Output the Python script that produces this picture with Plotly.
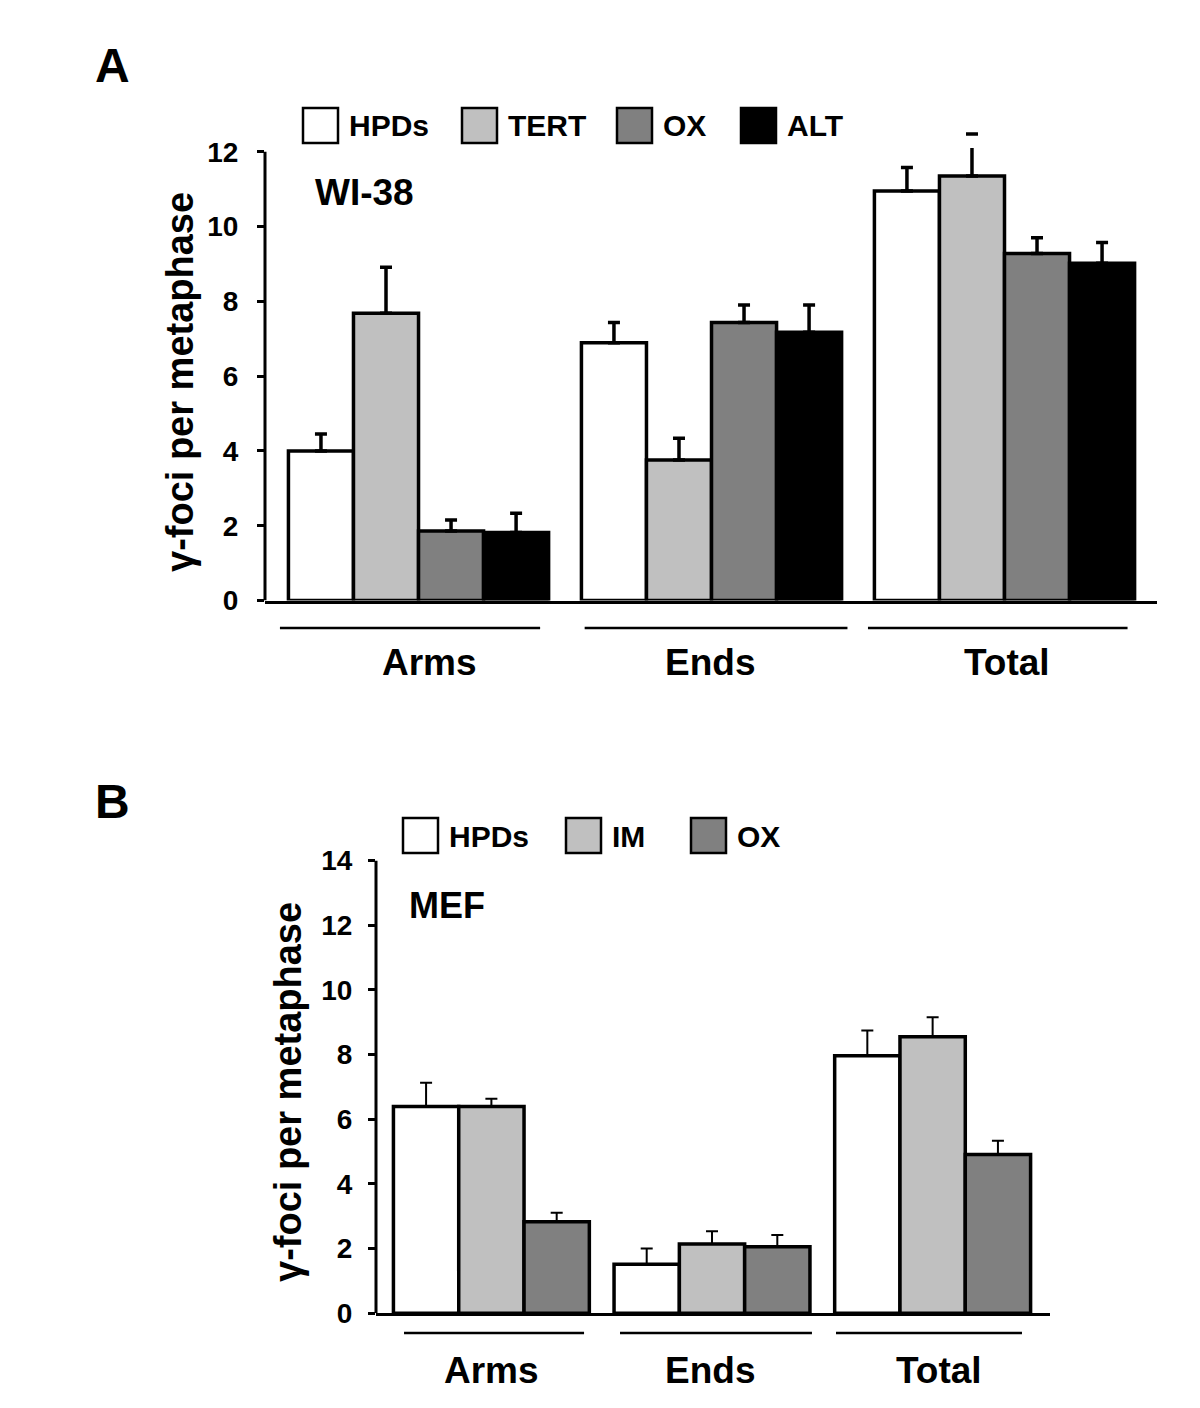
import plotly.graph_objects as go

# ---------------- data ----------------
categories = ["Arms", "Ends", "Total"]

# Panel A : WI-38
series_a = ["HPDs", "TERT", "OX", "ALT"]
hpds_a = [4.00, 6.89, 10.95]
tert_a = [7.68, 3.76, 11.35]
ox_a = [1.86, 7.43, 9.28]
alt_a = [1.82, 7.17, 9.02]
hpds_a_err = [0.45, 0.54, 0.63]
tert_a_err = [1.23, 0.58, 0.0]
ox_a_err = [0.29, 0.47, 0.42]
alt_a_err = [0.51, 0.73, 0.55]
tert_a_total_stem = 0.75     # TERT / Total error stem (cap detached)
tert_a_total_cap = 12.47     # detached cap level for TERT / Total

# Panel B : MEF
series_b = ["HPDs", "IM", "OX"]
hpds_b = [6.39, 1.52, 7.96]
im_b = [6.39, 2.14, 8.55]
ox_b = [2.83, 2.06, 4.91]
hpds_b_err = [0.74, 0.48, 0.78]
im_b_err = [0.24, 0.40, 0.60]
ox_b_err = [0.28, 0.36, 0.42]

ticks_a = [0, 2, 4, 6, 8, 10, 12]
ticks_b = [0, 2, 4, 6, 8, 10, 12, 14]

# ---------------- styling ----------------
PAGE_W, PAGE_H, BODY = 1200, 1408, 8
W, H = PAGE_W - 2 * BODY, PAGE_H - 2 * BODY
FONT = "Liberation Sans, Arial, Helvetica, sans-serif"
fills_a = ["#ffffff", "#c0c0c0", "#808080", "#000000"]
fills_b = ["#ffffff", "#c0c0c0", "#808080"]

# decoration: group underline spans (in category units) and label nudges (px)
underline_a = [(-0.473, 0.415), (-0.433, 0.464), (-0.466, 0.42)]
underline_b = [(-0.396, 0.42), (-0.417, 0.453), (-0.438, 0.405)]
label_shift_a = [11, -2, 2]
label_shift_b = [0, -2, 6]


def px(x):
    return (x - BODY) / W


def py(y):
    return 1 - (y - BODY) / H


fig = go.Figure()

vals_a = [hpds_a, tert_a, ox_a, alt_a]
errs_a = [hpds_a_err, tert_a_err, ox_a_err, alt_a_err]
for i, (name, v, e) in enumerate(zip(series_a, vals_a, errs_a)):
    fig.add_trace(go.Bar(
        x=categories, y=v, name=name, xaxis="x", yaxis="y",
        offsetgroup=str(i), showlegend=False,
        marker=dict(color=fills_a[i], line=dict(color="black", width=3.5)),
        error_y=dict(type="data", symmetric=False, array=e,
                     arrayminus=[0] * len(e), color="black",
                     thickness=3.5, width=6),
    ))

# TERT / Total: stem without cap, plus detached cap
fig.add_trace(go.Bar(
    x=categories, y=[None, None, tert_a[2]], xaxis="x", yaxis="y",
    offsetgroup="1", showlegend=False, hoverinfo="skip",
    marker=dict(color="rgba(0,0,0,0)", line=dict(width=0)),
    error_y=dict(type="data", symmetric=False, array=[0, 0, tert_a_total_stem],
                 arrayminus=[0, 0, 0], color="black", thickness=3.5, width=0),
))
fig.add_trace(go.Bar(
    x=categories, y=[None, None, tert_a_total_cap], xaxis="x", yaxis="y",
    offsetgroup="1", showlegend=False, hoverinfo="skip",
    marker=dict(color="rgba(0,0,0,0)", line=dict(width=0)),
    error_y=dict(type="data", symmetric=True, array=[0, 0, 0],
                 color="black", thickness=3.5, width=6),
))

vals_b = [hpds_b, im_b, ox_b]
errs_b = [hpds_b_err, im_b_err, ox_b_err]
for i, (name, v, e) in enumerate(zip(series_b, vals_b, errs_b)):
    fig.add_trace(go.Bar(
        x=categories, y=v, name=name, xaxis="x2", yaxis="y2",
        offsetgroup="b" + str(i), showlegend=False,
        marker=dict(color=fills_b[i], line=dict(color="black", width=3.5)),
        error_y=dict(type="data", symmetric=False, array=e,
                     arrayminus=[0] * len(e), color="black",
                     thickness=2, width=6),
    ))

# axes geometry (page pixels)
a_left, a_right, a_zero, a_unit = 265, 1157, 600.5, 37.4
a_ymax = 12.7
b_left, b_right, b_zero, b_unit = 376, 1050, 1313.3, 32.35
b_ymax = 14

axis_common = dict(showgrid=False, zeroline=False, fixedrange=True,
                   automargin=False)
ytick_common = dict(
    ticks="outside", ticklen=7, tickwidth=3, tickcolor="black",
    tickfont=dict(family=FONT, size=28, color="black", weight="bold"),
    showline=False,
)

fig.update_layout(
    template="none",
    width=W, height=H, autosize=False,
    margin=dict(l=0, r=0, t=0, b=0, pad=0, autoexpand=False),
    paper_bgcolor="white", plot_bgcolor="white",
    barmode="group", bargap=0.112, bargroupgap=0,
    showlegend=False,
    xaxis=dict(domain=[px(a_left), px(a_right)], anchor="y",
               type="category", range=[-0.524, 2.5205],
               showline=True, linecolor="black", linewidth=3,
               showticklabels=False, ticks="", **axis_common),
    yaxis=dict(domain=[py(a_zero), py(a_zero - a_ymax * a_unit)], anchor="x",
               range=[0, a_ymax], tickvals=ticks_a, ticklabelstandoff=13,
               **ytick_common, **axis_common),
    xaxis2=dict(domain=[px(b_left), px(b_right)], anchor="y2",
                type="category", range=[-0.523, 2.532],
                showline=True, linecolor="black", linewidth=3,
                showticklabels=False, ticks="", **axis_common),
    yaxis2=dict(domain=[py(b_zero), py(b_zero - b_ymax * b_unit)], anchor="x2",
                range=[0, b_ymax], tickvals=ticks_b, ticklabelstandoff=10,
                **ytick_common, **axis_common),
)

shapes = []
annotations = []

# y axis lines
shapes.append(dict(type="line", xref="x domain", yref="y", x0=0, x1=0,
                   y0=0, y1=ticks_a[-1], line=dict(color="black", width=3)))
shapes.append(dict(type="line", xref="x2 domain", yref="y2", x0=0, x1=0,
                   y0=0, y1=ticks_b[-1], line=dict(color="black", width=3)))


def ann(text, x, y, size, xref="paper", yref="paper", xanchor="center",
        yanchor="middle", angle=0, xshift=0):
    annotations.append(dict(
        text="<b>" + text + "</b>", x=x, y=y, xref=xref, yref=yref,
        xanchor=xanchor, yanchor=yanchor, showarrow=False, textangle=angle,
        xshift=xshift,
        font=dict(family=FONT, size=size, color="black")))


# category underlines and labels
for i, c in enumerate(categories):
    ua, ub = underline_a[i], underline_b[i]
    shapes.append(dict(type="line", xref="x", yref="paper",
                       x0=i + ua[0], x1=i + ua[1], y0=py(628), y1=py(628),
                       line=dict(color="black", width=2.5)))
    ann(c, c, py(662), 37, xref="x", xshift=label_shift_a[i])
    shapes.append(dict(type="line", xref="x2", yref="paper",
                       x0=i + ub[0], x1=i + ub[1], y0=py(1333), y1=py(1333),
                       line=dict(color="black", width=2.5)))
    ann(c, c, py(1370), 37, xref="x2", xshift=label_shift_b[i])

# legends (manual, large swatches)
box = 35
for name, col, left in zip(series_a, fills_a, [303, 462, 617, 741]):
    shapes.append(dict(type="rect", xref="paper", yref="paper",
                       x0=px(left), x1=px(left + box), y0=py(143), y1=py(108),
                       fillcolor=col, line=dict(color="black", width=2.5)))
    ann(name, px(left + box + 9), py(126), 30, xanchor="left")
for name, col, left in zip(series_b, fills_b, [403, 566, 691]):
    shapes.append(dict(type="rect", xref="paper", yref="paper",
                       x0=px(left), x1=px(left + box), y0=py(853), y1=py(818),
                       fillcolor=col, line=dict(color="black", width=2.5)))
    ann(name, px(left + box + 9), py(836), 30, xanchor="left")

# panel letters, cell line labels, y titles
ann("A", px(112), py(66), 48)
ann("B", px(112), py(801), 48)
ann("WI-38", px(364), py(192), 37)
ann("MEF", px(447), py(906), 36)
ann("γ-foci per metaphase", px(180), py(382), 38, angle=-90)
ann("γ-foci per metaphase", px(288), py(1092), 38, angle=-90)

fig.update_layout(shapes=shapes, annotations=annotations)

fig.write_html("out.html")
